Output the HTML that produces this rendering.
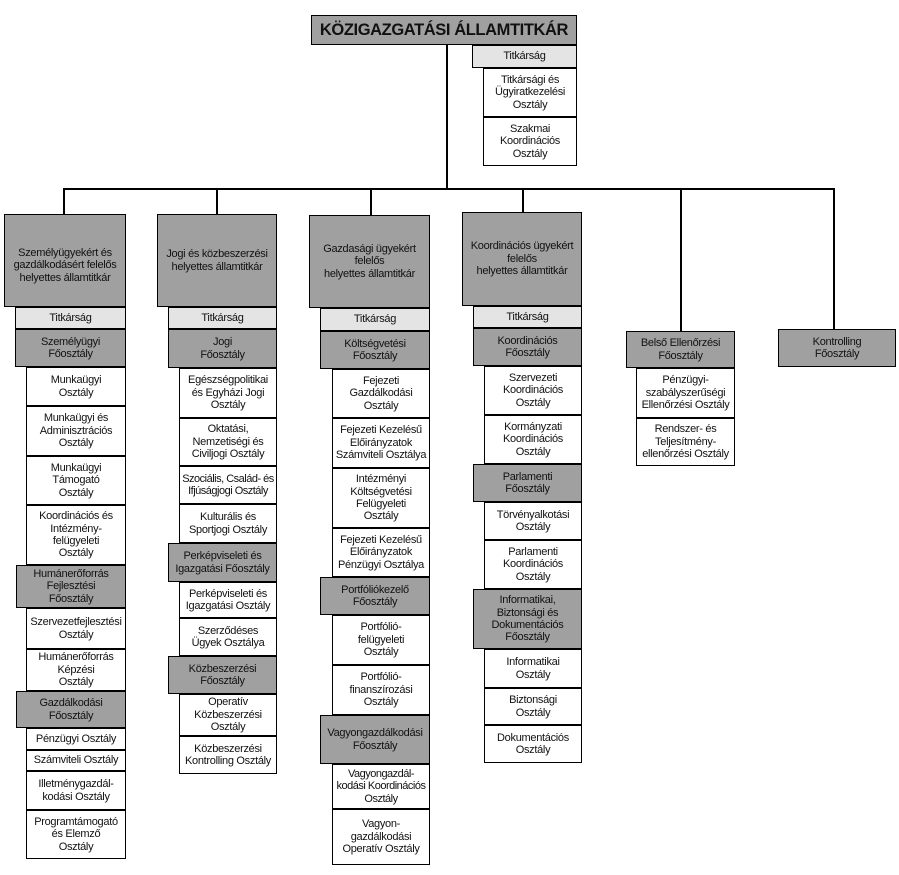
<!DOCTYPE html>
<html><head><meta charset="utf-8">
<style>
html,body{margin:0;padding:0;background:#fff;}
body{width:899px;height:875px;position:relative;overflow:hidden;font-family:"Liberation Sans",Arial,sans-serif;}
.b{position:absolute;box-sizing:border-box;border:1px solid #000;display:flex;align-items:center;justify-content:center;text-align:center;font-size:11px;letter-spacing:-0.3px;line-height:12.4px;color:#111;white-space:nowrap;background:#fff;}
.g{background:#a0a0a0;}
.l{background:#e4e4e4;}
.ln{position:absolute;background:#000;}
</style></head><body>

<!-- connectors -->
<div class="ln" style="left:446px;top:44px;width:2px;height:146px"></div>
<div class="ln" style="left:63px;top:188px;width:772px;height:2px"></div>
<div class="ln" style="left:63px;top:188px;width:2px;height:27px"></div>
<div class="ln" style="left:216px;top:188px;width:2px;height:27px"></div>
<div class="ln" style="left:370px;top:188px;width:2px;height:28px"></div>
<div class="ln" style="left:522px;top:188px;width:2px;height:25px"></div>
<div class="ln" style="left:680px;top:188px;width:2px;height:144px"></div>
<div class="ln" style="left:833px;top:188px;width:2px;height:142px"></div>

<!-- top -->
<div class="b g" style="left:311px;top:15px;width:266px;height:30px;font-size:16.5px;font-weight:bold;letter-spacing:-0.4px;">KÖZIGAZGATÁSI ÁLLAMTITKÁR</div>
<div class="b l" style="left:472px;top:45px;width:105px;height:23px;">Titkárság</div>
<div class="b" style="left:483px;top:68px;width:94px;height:49px;">Titkársági és<br>Ügyiratkezelési<br>Osztály</div>
<div class="b" style="left:483px;top:117px;width:94px;height:49px;">Szakmai<br>Koordinációs<br>Osztály</div>

<!-- col1 -->
<div class="b g" style="left:4px;top:214px;width:122px;height:93px;padding-top:10px;">Személyügyekért és<br>gazdálkodásért felelős<br>helyettes államtitkár</div>
<div class="b l" style="left:15px;top:307px;width:111px;height:22px;">Titkárság</div>
<div class="b g" style="left:15px;top:329px;width:111px;height:38px;">Személyügyi<br>Főosztály</div>
<div class="b" style="left:26px;top:367px;width:100px;height:39px;">Munkaügyi<br>Osztály</div>
<div class="b" style="left:26px;top:406px;width:100px;height:50px;">Munkaügyi és<br>Adminisztrációs<br>Osztály</div>
<div class="b" style="left:26px;top:456px;width:100px;height:49px;">Munkaügyi<br>Támogató<br>Osztály</div>
<div class="b" style="left:26px;top:505px;width:100px;height:60px;">Koordinációs és<br>Intézmény-<br>felügyeleti<br>Osztály</div>
<div class="b g" style="left:16px;top:565px;width:110px;height:43px;">Humánerőforrás<br>Fejlesztési<br>Főosztály</div>
<div class="b" style="left:26px;top:608px;width:100px;height:41px;">Szervezetfejlesztési<br>Osztály</div>
<div class="b" style="left:26px;top:649px;width:100px;height:42px;">Humánerőforrás<br>Képzési<br>Osztály</div>
<div class="b g" style="left:16px;top:691px;width:110px;height:37px;">Gazdálkodási<br>Főosztály</div>
<div class="b" style="left:26px;top:728px;width:100px;height:22px;">Pénzügyi Osztály</div>
<div class="b" style="left:26px;top:750px;width:100px;height:21px;">Számviteli Osztály</div>
<div class="b" style="left:26px;top:771px;width:100px;height:39px;">Illetménygazdál-<br>kodási Osztály</div>
<div class="b" style="left:26px;top:810px;width:100px;height:49px;">Programtámogató<br>és Elemző<br>Osztály</div>

<!-- col2 -->
<div class="b g" style="left:157px;top:214px;width:120px;height:93px;">Jogi és közbeszerzési<br>helyettes államtitkár</div>
<div class="b l" style="left:168px;top:307px;width:109px;height:22px;">Titkárság</div>
<div class="b g" style="left:168px;top:329px;width:109px;height:39px;">Jogi<br>Főosztály</div>
<div class="b" style="left:179px;top:368px;width:98px;height:50px;">Egészségpolitikai<br>és Egyházi Jogi<br>Osztály</div>
<div class="b" style="left:179px;top:418px;width:98px;height:48px;">Oktatási,<br>Nemzetiségi és<br>Civiljogi Osztály</div>
<div class="b" style="left:179px;top:466px;width:98px;height:38px;letter-spacing:-0.5px;">Szociális, Család- és<br>Ifjúságjogi Osztály</div>
<div class="b" style="left:179px;top:504px;width:98px;height:39px;">Kulturális és<br>Sportjogi Osztály</div>
<div class="b g" style="left:168px;top:543px;width:109px;height:39px;">Perképviseleti és<br>Igazgatási Főosztály</div>
<div class="b" style="left:179px;top:582px;width:98px;height:36px;">Perképviseleti és<br>Igazgatási Osztály</div>
<div class="b" style="left:179px;top:618px;width:98px;height:38px;">Szerződéses<br>Ügyek Osztálya</div>
<div class="b g" style="left:168px;top:656px;width:109px;height:38px;">Közbeszerzési<br>Főosztály</div>
<div class="b" style="left:179px;top:694px;width:98px;height:42px;">Operatív<br>Közbeszerzési<br>Osztály</div>
<div class="b" style="left:179px;top:736px;width:98px;height:38px;">Közbeszerzési<br>Kontrolling Osztály</div>

<!-- col3 -->
<div class="b g" style="left:309px;top:215px;width:121px;height:93px;">Gazdasági ügyekért<br>felelős<br>helyettes államtitkár</div>
<div class="b l" style="left:320px;top:308px;width:110px;height:23px;">Titkárság</div>
<div class="b g" style="left:320px;top:331px;width:110px;height:38px;">Költségvetési<br>Főosztály</div>
<div class="b" style="left:332px;top:369px;width:98px;height:49px;">Fejezeti<br>Gazdálkodási<br>Osztály</div>
<div class="b" style="left:332px;top:418px;width:98px;height:50px;">Fejezeti Kezelésű<br>Előirányzatok<br>Számviteli Osztálya</div>
<div class="b" style="left:332px;top:468px;width:98px;height:60px;">Intézményi<br>Költségvetési<br>Felügyeleti<br>Osztály</div>
<div class="b" style="left:332px;top:528px;width:98px;height:49px;">Fejezeti Kezelésű<br>Előirányzatok<br>Pénzügyi Osztálya</div>
<div class="b g" style="left:320px;top:577px;width:110px;height:38px;">Portfóliókezelő<br>Főosztály</div>
<div class="b" style="left:332px;top:615px;width:98px;height:50px;">Portfólió-<br>felügyeleti<br>Osztály</div>
<div class="b" style="left:332px;top:665px;width:98px;height:50px;">Portfólió-<br>finanszírozási<br>Osztály</div>
<div class="b g" style="left:320px;top:715px;width:110px;height:49px;">Vagyongazdálkodási<br>Főosztály</div>
<div class="b" style="left:332px;top:764px;width:98px;height:45px;letter-spacing:-0.5px;">Vagyongazdál-<br>kodási Koordinációs<br>Osztály</div>
<div class="b" style="left:332px;top:809px;width:98px;height:56px;">Vagyon-<br>gazdálkodási<br>Operatív Osztály</div>

<!-- col4 -->
<div class="b g" style="left:462px;top:212px;width:120px;height:94px;">Koordinációs ügyekért<br>felelős<br>helyettes államtitkár</div>
<div class="b l" style="left:473px;top:306px;width:109px;height:22px;">Titkárság</div>
<div class="b g" style="left:473px;top:328px;width:109px;height:38px;">Koordinációs<br>Főosztály</div>
<div class="b" style="left:484px;top:366px;width:98px;height:49px;">Szervezeti<br>Koordinációs<br>Osztály</div>
<div class="b" style="left:484px;top:415px;width:98px;height:49px;">Kormányzati<br>Koordinációs<br>Osztály</div>
<div class="b g" style="left:473px;top:464px;width:109px;height:38px;">Parlamenti<br>Főosztály</div>
<div class="b" style="left:484px;top:502px;width:98px;height:38px;">Törvényalkotási<br>Osztály</div>
<div class="b" style="left:484px;top:540px;width:98px;height:49px;">Parlamenti<br>Koordinációs<br>Osztály</div>
<div class="b g" style="left:473px;top:589px;width:109px;height:60px;">Informatikai,<br>Biztonsági és<br>Dokumentációs<br>Főosztály</div>
<div class="b" style="left:484px;top:649px;width:98px;height:39px;">Informatikai<br>Osztály</div>
<div class="b" style="left:484px;top:688px;width:98px;height:37px;">Biztonsági<br>Osztály</div>
<div class="b" style="left:484px;top:725px;width:98px;height:38px;">Dokumentációs<br>Osztály</div>

<!-- col5 -->
<div class="b g" style="left:626px;top:331px;width:109px;height:37px;">Belső Ellenőrzési<br>Főosztály</div>
<div class="b" style="left:636px;top:368px;width:99px;height:50px;">Pénzügyi-<br>szabályszerűségi<br>Ellenőrzési Osztály</div>
<div class="b" style="left:636px;top:418px;width:99px;height:48px;">Rendszer- és<br>Teljesítmény-<br>ellenőrzési Osztály</div>

<!-- col6 -->
<div class="b g" style="left:778px;top:329px;width:118px;height:38px;">Kontrolling<br>Főosztály</div>

</body></html>
